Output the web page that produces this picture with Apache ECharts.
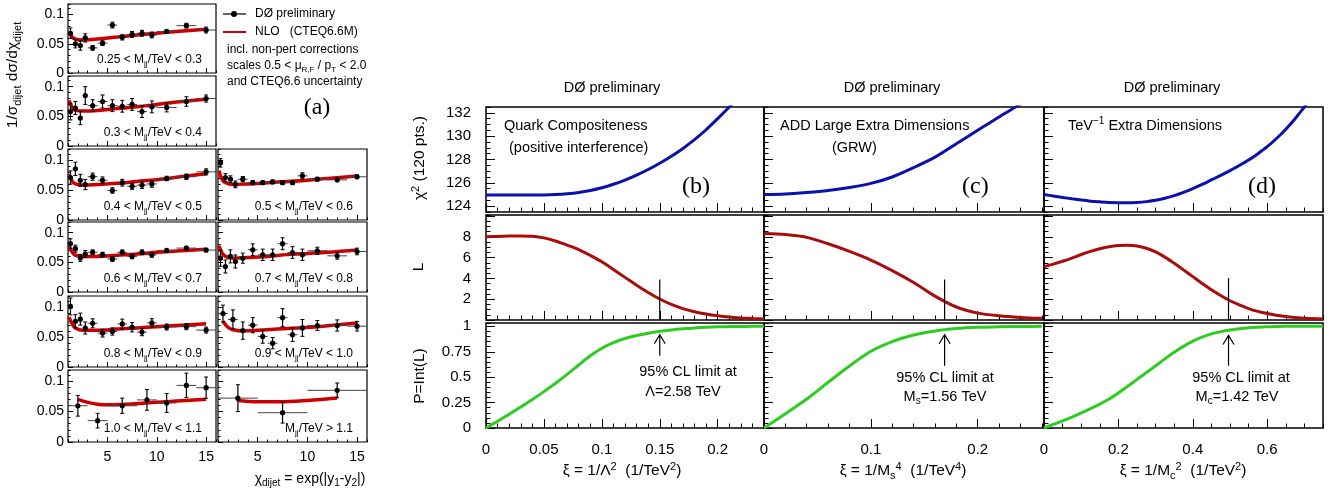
<!DOCTYPE html>
<html>
<head>
<meta charset="utf-8">
<script src="https://cdn.jsdelivr.net/npm/echarts@6.0.0/dist/echarts.min.js"></script>
<style>
  html, body { margin: 0; padding: 0; background: #fff; }
  #chart { width: 1340px; height: 493px; }
</style>
</head>
<body>
<div id="chart"></div>
<script>
// ---- dijet chi distributions, panel (a) ----
const chiStd = [1.25, 1.75, 2.25, 2.75, 3.5, 4.5, 5.5, 6.5, 7.5, 8.5, 9.5, 11, 13, 15];
const chiStdHalf = [0.25, 0.25, 0.25, 0.25, 0.5, 0.5, 0.5, 0.5, 0.5, 0.5, 0.5, 1, 1, 1];
const chi09 = [1.5, 2.5, 3.5, 4.5, 5.5, 6.5, 7.5, 8.5, 9.5, 11, 13, 15];
const chi09Half = [0.5, 0.5, 0.5, 0.5, 0.5, 0.5, 0.5, 0.5, 0.5, 1, 1, 1];
const chi10 = [2, 4, 6.5, 9, 11, 13, 15];
const chi10Half = [1, 1, 1.5, 1, 1, 1, 1];
const chi11 = [3, 7.5, 13];
const chi11Half = [2, 2.5, 3];

const d025 = [0.068, 0.050, 0.047, 0.060, 0.043, 0.051, 0.082, 0.061, 0.066, 0.068, 0.065, 0.071, 0.081, 0.0735];
const e025 = [0.009, 0.007, 0.008, 0.007, 0.004, 0.004, 0.005, 0.0045, 0.005, 0.005, 0.005, 0.003, 0.004, 0.005];
const d03 = [0.058, 0.064, 0.047, 0.085, 0.068, 0.075, 0.068, 0.067, 0.070, 0.058, 0.066, 0.065, 0.075, 0.080];
const e03 = [0.014, 0.011, 0.011, 0.015, 0.01, 0.011, 0.01, 0.01, 0.01, 0.01, 0.01, 0.0075, 0.008, 0.006];
const d04 = [0.0706, 0.085, 0.066, 0.059, 0.072, 0.066, 0.049, 0.062, 0.056, 0.058, 0.060, 0.069, 0.072, 0.080];
const e04 = [0.011, 0.011, 0.01, 0.0085, 0.006, 0.0056, 0.0045, 0.0056, 0.005, 0.0056, 0.0056, 0.0037, 0.0045, 0.005];
const d05 = [0.0949, 0.0706, 0.0678, 0.0593, 0.0678, 0.0621, 0.062, 0.0633, 0.062, 0.062, 0.0734, 0.0678, 0.0667, 0.0718];
const e05 = [0.007, 0.0065, 0.0056, 0.0056, 0.0045, 0.0034, 0.003, 0.003, 0.003, 0.003, 0.005, 0.003, 0.003, 0.003];
const d06 = [0.0816, 0.073, 0.0575, 0.064, 0.067, 0.063, 0.0557, 0.067, 0.060, 0.067, 0.0626, 0.070, 0.074, 0.0707];
const e06 = [0.008, 0.006, 0.006, 0.006, 0.004, 0.004, 0.004, 0.004, 0.004, 0.004, 0.004, 0.002, 0.003, 0.003];
const d07 = [0.057, 0.043, 0.060, 0.0514, 0.057, 0.0712, 0.0627, 0.0627, 0.0814, 0.0666, 0.0627, 0.0695, 0.061, 0.0683];
const e07 = [0.0136, 0.011, 0.011, 0.011, 0.0085, 0.01, 0.0096, 0.0096, 0.01, 0.01, 0.0096, 0.006, 0.0056, 0.0056];
const d08 = [0.1006, 0.076, 0.0795, 0.0648, 0.0727, 0.0563, 0.059, 0.0716, 0.066, 0.058, 0.0733, 0.0665, 0.067, 0.0614];
const e08 = [0.014, 0.011, 0.01, 0.01, 0.0074, 0.0065, 0.006, 0.008, 0.0077, 0.006, 0.007, 0.005, 0.005, 0.005];
const d09 = [0.0888, 0.079, 0.0605, 0.0695, 0.0508, 0.0396, 0.082, 0.0537, 0.065, 0.069, 0.069, 0.0678];
const e09 = [0.014, 0.016, 0.0144, 0.0127, 0.0113, 0.0093, 0.015, 0.0113, 0.014, 0.0082, 0.0093, 0.008];
const d10 = [0.0594, 0.035, 0.0594, 0.069, 0.064, 0.0928, 0.089];
const e10 = [0.017, 0.012, 0.0125, 0.017, 0.0155, 0.02, 0.0175];
const d11 = [0.0719, 0.048, 0.0847];
const e11 = [0.022, 0.017, 0.012];

// NLO (CTEQ6.6M) predictions
const nloX = [1.1, 1.4, 1.75, 2.5, 4, 6, 8, 10, 12, 15];
const t025 = [0.070, 0.062, 0.058, 0.0565, 0.058, 0.0615, 0.065, 0.068, 0.071, 0.075];
const t03 = [0.077, 0.066, 0.060, 0.059, 0.060, 0.063, 0.066, 0.070, 0.074, 0.079];
const t04 = [0.076, 0.065, 0.060, 0.058, 0.059, 0.061, 0.064, 0.067, 0.071, 0.077];
const t05 = [0.082, 0.068, 0.062, 0.059, 0.060, 0.062, 0.064, 0.066, 0.069, 0.073];
const t06 = [0.078, 0.068, 0.062, 0.060, 0.060, 0.062, 0.064, 0.067, 0.069, 0.072];
const t07 = [0.078, 0.066, 0.060, 0.057, 0.058, 0.060, 0.063, 0.065, 0.067, 0.071];
const t08 = [0.083, 0.072, 0.065, 0.061, 0.061, 0.063, 0.065, 0.067, 0.069, 0.072];
const nlo09X = [1.5, 2, 2.5, 3.5, 5, 7, 9, 11, 13, 15];
const t09 = [0.076, 0.066, 0.062, 0.060, 0.061, 0.063, 0.065, 0.067, 0.070, 0.073];
const nlo10X = [2, 3, 4, 5, 7, 10, 12, 15];
const t10 = [0.070, 0.065, 0.062, 0.061, 0.062, 0.065, 0.067, 0.070];
const nlo11X = [3, 5, 7, 10, 13];
const t11 = [0.068, 0.066, 0.066, 0.068, 0.072];

const massLabels = [
  '0.25 < M{s|jj}/TeV < 0.3', '0.3 < M{s|jj}/TeV < 0.4', '0.4 < M{s|jj}/TeV < 0.5',
  '0.5 < M{s|jj}/TeV < 0.6', '0.6 < M{s|jj}/TeV < 0.7', '0.7 < M{s|jj}/TeV < 0.8',
  '0.8 < M{s|jj}/TeV < 0.9', '0.9 < M{s|jj}/TeV < 1.0', '1.0 < M{s|jj}/TeV < 1.1',
  'M{s|jj}/TeV > 1.1'
];

// ---- limit panels (b), (c), (d) ----
const xiB = [0, 0.01, 0.02, 0.03, 0.04, 0.05, 0.06, 0.07, 0.08, 0.09, 0.1, 0.11, 0.12,
  0.13, 0.14, 0.15, 0.16, 0.17, 0.18, 0.19, 0.2, 0.21, 0.22, 0.23, 0.24];
const chi2B = [124.95, 124.95, 124.95, 124.95, 124.95, 124.96, 125.0, 125.07, 125.18, 125.35, 125.58, 125.88, 126.24,
  126.66, 127.14, 127.68, 128.28, 128.95, 129.7, 130.55, 131.5, 132.5, 133.55, 134.6, 135.7];
const likeB = [8.0, 8.04, 8.07, 8.08, 8.05, 7.9, 7.6, 7.2, 6.78, 6.22, 5.6, 4.85, 4.1,
  3.35, 2.65, 2.02, 1.5, 1.1, 0.8, 0.57, 0.4, 0.28, 0.2, 0.14, 0.1];
const probB = [0, 0.067, 0.135, 0.207, 0.28, 0.358, 0.44, 0.528, 0.62, 0.71, 0.785, 0.84, 0.88,
  0.91, 0.933, 0.951, 0.965, 0.976, 0.985, 0.991, 0.995, 0.998, 0.999, 1.0, 1.0];

const xiC = [0, 0.02, 0.04, 0.06, 0.08, 0.1, 0.12, 0.14, 0.16, 0.18, 0.2, 0.22, 0.24, 0.26];
const chi2C = [125.0, 125.05, 125.18, 125.35, 125.6, 125.95, 126.5, 127.3, 128.2, 129.35, 130.5, 131.65, 132.75, 133.9];
const likeC = [8.33, 8.22, 7.95, 7.33, 6.6, 5.77, 4.75, 3.6, 2.3, 1.25, 0.66, 0.4, 0.25, 0.16];
const probC = [0, 0.14, 0.285, 0.45, 0.61, 0.755, 0.85, 0.915, 0.955, 0.978, 0.99, 0.996, 0.999, 1.0];

const xiD = [0, 0.025, 0.05, 0.075, 0.1, 0.125, 0.15, 0.175, 0.2, 0.225, 0.25, 0.275, 0.3, 0.325, 0.35, 0.375,
  0.4, 0.425, 0.45, 0.475, 0.5, 0.525, 0.55, 0.575, 0.6, 0.625, 0.65, 0.675, 0.7, 0.725, 0.75];
const chi2D = [125.0, 124.87, 124.75, 124.63, 124.52, 124.43, 124.37, 124.32, 124.3, 124.29, 124.32, 124.39, 124.5, 124.68, 124.9, 125.18,
  125.5, 125.86, 126.25, 126.64, 127.05, 127.48, 127.95, 128.5, 129.1, 129.8, 130.6, 131.5, 132.5, 133.5, 134.5];
const likeD = [5.13, 5.38, 5.65, 5.95, 6.3, 6.6, 6.85, 7.05, 7.17, 7.2, 7.12, 6.9, 6.55, 6.05, 5.45, 4.82,
  4.17, 3.52, 2.9, 2.35, 1.85, 1.45, 1.1, 0.83, 0.62, 0.46, 0.33, 0.24, 0.17, 0.13, 0.1];
const probD = [0, 0.035, 0.07, 0.108, 0.148, 0.19, 0.235, 0.285, 0.345, 0.41, 0.478, 0.545, 0.612, 0.68, 0.745, 0.803,
  0.855, 0.895, 0.926, 0.948, 0.965, 0.977, 0.986, 0.991, 0.995, 0.998, 1.0, 1.0, 1.0, 1.0, 1.0];

const limitXi = [0.15, 0.169, 0.496];
const limitLineTop = [3.9, 3.9, 4.05];
const arrowBase = [0.71, 0.613, 0.613];
const arrowTip = [0.918, 0.918, 0.91];

const FONT = '"Liberation Sans", Arial, Helvetica, sans-serif';
const SERIF = '"Liberation Serif", "DejaVu Serif", "Times New Roman", serif';

const grid = [], xAxis = [], yAxis = [], series = [], graphic = [];

function axisPair(gi, s, dim) {
  const pos = dim === 'x' ? 'bottom' : 'left';
  const main = {
    type: 'value', gridIndex: gi, position: pos, min: s.min, max: s.max,
    axisLine: { show: false, onZero: false },
    splitLine: { show: false },
    axisTick: { show: true, inside: true, length: s.len, customValues: s.ticks, lineStyle: { color: '#000', width: 1 } },
    axisLabel: s.labels
      ? { show: true, customValues: s.labels, formatter: v => String(+(+v).toFixed(4)), color: '#000', fontFamily: FONT, fontSize: s.fs, margin: s.margin }
      : { show: false }
  };
  const minor = {
    type: 'value', gridIndex: gi, position: pos, min: s.min, max: s.max, interval: s.step,
    axisLine: { show: false, onZero: false }, splitLine: { show: false }, axisLabel: { show: false },
    axisTick: { show: true, inside: true, length: s.mlen, lineStyle: { color: '#000', width: 1 } }
  };
  return [main, minor];
}

function panel(rect, xs, ys, border) {
  const gi = grid.length;
  grid.push({
    left: rect[0], top: rect[1], width: rect[2], height: rect[3],
    show: true, borderColor: '#000', borderWidth: border, backgroundColor: 'rgba(0,0,0,0)',
    containLabel: false, outerBoundsMode: 'none'
  });
  const xi = xAxis.length, yi = yAxis.length;
  xAxis.push(...axisPair(gi, xs, 'x'));
  yAxis.push(...axisPair(gi, ys, 'y'));
  return { xAxisIndex: xi, yAxisIndex: yi };
}

function richFor(size, family) {
  const small = Math.round(size * 0.7);
  return {
    s: { fontSize: small, fontFamily: family, lineHeight: small, verticalAlign: 'bottom', fill: '#000' },
    p: { fontSize: small, fontFamily: family, lineHeight: small, verticalAlign: 'top', fill: '#000' }
  };
}

function text(x, y, str, size, opts) {
  opts = opts || {};
  const family = opts.family || FONT;
  graphic.push({
    type: 'text', x, y, rotation: opts.rot || 0, z: 100, silent: true,
    style: {
      text: str, fill: '#000', font: size + 'px ' + family,
      textAlign: opts.align || 'left', textVerticalAlign: 'middle',
      lineHeight: Math.round(size * 1.3), rich: richFor(size, family)
    }
  });
}

// ---- panel (a) ----
const colLeft = [68, 218], colWidth = [148, 149];
const rowTop = [4, 76, 149, 222, 296, 370], rowHeight = [69, 70, 71, 70, 71, 72];

const dijetPanels = [
  { col: 0, row: 0, x: chiStd, hw: chiStdHalf, y: d025, e: e025, nx: nloX, ny: t025 },
  { col: 0, row: 1, x: chiStd, hw: chiStdHalf, y: d03, e: e03, nx: nloX, ny: t03 },
  { col: 0, row: 2, x: chiStd, hw: chiStdHalf, y: d04, e: e04, nx: nloX, ny: t04 },
  { col: 1, row: 2, x: chiStd, hw: chiStdHalf, y: d05, e: e05, nx: nloX, ny: t05 },
  { col: 0, row: 3, x: chiStd, hw: chiStdHalf, y: d06, e: e06, nx: nloX, ny: t06 },
  { col: 1, row: 3, x: chiStd, hw: chiStdHalf, y: d07, e: e07, nx: nloX, ny: t07 },
  { col: 0, row: 4, x: chiStd, hw: chiStdHalf, y: d08, e: e08, nx: nloX, ny: t08 },
  { col: 1, row: 4, x: chi09, hw: chi09Half, y: d09, e: e09, nx: nlo09X, ny: t09 },
  { col: 0, row: 5, x: chi10, hw: chi10Half, y: d10, e: e10, nx: nlo10X, ny: t10 },
  { col: 1, row: 5, x: chi11, hw: chi11Half, y: d11, e: e11, nx: nlo11X, ny: t11 }
];

dijetPanels.forEach((p, k) => {
  const rect = [colLeft[p.col], rowTop[p.row], colWidth[p.col], rowHeight[p.row]];
  const ax = panel(rect,
    { min: 1, max: 16, ticks: [5, 10, 15], labels: p.row === 5 ? [5, 10, 15] : null, len: 5, step: 1, mlen: 2.5, fs: 14, margin: 8 },
    { min: 0, max: 0.118, ticks: [0, 0.05, 0.1], labels: p.col === 0 ? [0, 0.05, 0.1] : null, len: 5, step: 0.01, mlen: 2.5, fs: 14, margin: 4 },
    1.2);
  series.push({
    type: 'line', xAxisIndex: ax.xAxisIndex, yAxisIndex: ax.yAxisIndex, z: 3, silent: true,
    data: p.nx.map((x, i) => [x, p.ny[i]]), symbol: 'none', smooth: 0.4,
    lineStyle: { color: '#cc0000', width: 3.5 }
  });
  series.push({
    type: 'custom', xAxisIndex: ax.xAxisIndex, yAxisIndex: ax.yAxisIndex, z: 5, silent: true,
    encode: { x: 0, y: 1 },
    data: p.x.map((x, i) => [x, p.y[i], p.hw[i], p.e[i]]),
    renderItem(params, api) {
      const x = api.value(0), y = api.value(1), h = api.value(2), e = api.value(3);
      const c = api.coord([x, y]);
      const l = api.coord([x - h, y]), r = api.coord([x + h, y]);
      const t = api.coord([x, y + e]), b = api.coord([x, y - e]);
      return {
        type: 'group', children: [
          { type: 'line', shape: { x1: l[0], y1: c[1], x2: r[0], y2: c[1] }, style: { stroke: '#444', lineWidth: 1 } },
          { type: 'line', shape: { x1: c[0], y1: t[1], x2: c[0], y2: b[1] }, style: { stroke: '#000', lineWidth: 1.2 } },
          { type: 'line', shape: { x1: c[0] - 2, y1: t[1], x2: c[0] + 2, y2: t[1] }, style: { stroke: '#000', lineWidth: 1 } },
          { type: 'line', shape: { x1: c[0] - 2, y1: b[1], x2: c[0] + 2, y2: b[1] }, style: { stroke: '#000', lineWidth: 1 } },
          { type: 'circle', shape: { cx: c[0], cy: c[1], r: 2.6 }, style: { fill: '#000' } }
        ]
      };
    }
  });
  text(rect[0] + rect[2] - 14, rect[1] + rect[3] - 13, massLabels[k], 12, { align: 'right' });
});

// legend and notes of panel (a)
graphic.push(
  { type: 'line', shape: { x1: 223, y1: 14, x2: 246, y2: 14 }, style: { stroke: '#000', lineWidth: 1.2 }, z: 100 },
  { type: 'circle', shape: { cx: 234, cy: 14, r: 3 }, style: { fill: '#000' }, z: 100 },
  { type: 'line', shape: { x1: 223, y1: 32, x2: 246, y2: 32 }, style: { stroke: '#cc0000', lineWidth: 2 }, z: 100 }
);
text(255, 14, 'DØ preliminary', 12);
text(255, 32, 'NLO   (CTEQ6.6M)', 12);
text(227, 50, 'incl. non-pert corrections', 12);
text(227, 66, 'scales 0.5 < μ{s|R,F} / p{s|T} < 2.0', 12);
text(227, 82, 'and CTEQ6.6 uncertainty', 12);
text(317, 108, '(a)', 24, { family: SERIF, align: 'center' });
text(13, 75, '1/σ{s|dijet} dσ/dχ{s|dijet}', 15.5, { rot: Math.PI / 2, align: 'center' });
text(310, 479, 'χ{s|dijet} = exp(|y{s|1}-y{s|2}|)', 14, { align: 'center' });

// ---- panels (b), (c), (d) ----
const limitPanels = [
  { left: 486, width: 278, xmax: 0.24, ticks: [0, 0.05, 0.1, 0.15, 0.2], step: 0.01, xi: xiB, chi: chi2B, like: likeB, prob: probB },
  { left: 764, width: 280, xmax: 0.262, ticks: [0, 0.1, 0.2], step: 0.02, xi: xiC, chi: chi2C, like: likeC, prob: probC },
  { left: 1044, width: 279, xmax: 0.75, ticks: [0, 0.2, 0.4, 0.6], step: 0.05, xi: xiD, chi: chi2D, like: likeD, prob: probD }
];
const rows = [
  { top: 107, height: 105, min: 123.5, max: 132.5, ticks: [124, 126, 128, 130, 132], step: 0.5, key: 'chi', color: '#0c10aa' },
  { top: 215, height: 105, min: 0, max: 10.1, ticks: [0, 2, 4, 6, 8, 10], labels: [2, 4, 6, 8], step: 0.5, key: 'like', color: '#a80c0c' },
  { top: 323, height: 105, min: 0, max: 1.033, ticks: [0, 0.25, 0.5, 0.75, 1], step: 0.05, key: 'prob', color: '#2ecc22' }
];

limitPanels.forEach((c, k) => {
  rows.forEach((r, j) => {
    const ax = panel([c.left, r.top, c.width, r.height],
      { min: 0, max: c.xmax, ticks: c.ticks, labels: j === 2 ? c.ticks : null, len: 9, step: c.step, mlen: 4.5, fs: 15, margin: 14 },
      { min: r.min, max: r.max, ticks: r.ticks, labels: k === 0 ? (r.labels || r.ticks) : null, len: 9, step: r.step, mlen: 4.5, fs: 15, margin: 15 },
      1.5);
    series.push({
      type: 'line', xAxisIndex: ax.xAxisIndex, yAxisIndex: ax.yAxisIndex, z: 3, silent: true, clip: true,
      data: c.xi.map((x, i) => [x, c[r.key][i]]), symbol: 'none', smooth: 0.3,
      lineStyle: { color: r.color, width: 3 }
    });
    if (j === 1) {
      series.push({
        type: 'line', xAxisIndex: ax.xAxisIndex, yAxisIndex: ax.yAxisIndex, z: 4, silent: true,
        data: [[limitXi[k], 0], [limitXi[k], limitLineTop[k]]], symbol: 'none',
        lineStyle: { color: '#000', width: 1.2 }
      });
    }
    if (j === 2) {
      series.push({
        type: 'custom', xAxisIndex: ax.xAxisIndex, yAxisIndex: ax.yAxisIndex, z: 4, silent: true,
        encode: { x: 0, y: 1 },
        data: [[limitXi[k], arrowBase[k], arrowTip[k]]],
        renderItem(params, api) {
          const b = api.coord([api.value(0), api.value(1)]);
          const t = api.coord([api.value(0), api.value(2)]);
          return {
            type: 'group', children: [
              { type: 'line', shape: { x1: b[0], y1: b[1], x2: t[0], y2: t[1] }, style: { stroke: '#000', lineWidth: 1.2 } },
              { type: 'polyline', shape: { points: [[t[0] - 5.5, t[1] + 9], [t[0], t[1]], [t[0] + 5.5, t[1] + 9]] }, style: { stroke: '#000', lineWidth: 1.2, fill: null } }
            ]
          };
        }
      });
    }
  });
});

// titles and annotations
text(612, 88, 'DØ preliminary', 14.5, { align: 'center' });
text(892, 88, 'DØ preliminary', 14.5, { align: 'center' });
text(1172, 88, 'DØ preliminary', 14.5, { align: 'center' });
text(504, 126, 'Quark Compositeness', 14.5);
text(509, 148, '(positive interference)', 14.5);
text(780, 126, 'ADD Large Extra Dimensions', 14.5);
text(832, 148, '(GRW)', 14.5);
text(1068, 126, 'TeV{p|−1} Extra Dimensions', 14.5);
text(682, 187, '(b)', 24, { family: SERIF });
text(962, 187, '(c)', 24, { family: SERIF });
text(1248, 187, '(d)', 24, { family: SERIF });
text(420, 158, 'χ{p|2} (120 pts.)', 15.5, { rot: Math.PI / 2, align: 'center' });
text(419, 267, 'L', 15.5, { rot: Math.PI / 2, align: 'center' });
text(420, 376, 'P=Int(L)', 15.5, { rot: Math.PI / 2, align: 'center' });
text(622, 471, 'ξ = 1/Λ{p|2}  (1/TeV{p|2})', 15.5, { align: 'center' });
text(903, 471, 'ξ = 1/M{s|s}{p|4}  (1/TeV{p|4})', 15.5, { align: 'center' });
text(1183, 471, 'ξ = 1/M{s|c}{p|2}  (1/TeV{p|2})', 15.5, { align: 'center' });
text(688, 372, '95% CL limit at', 14.5, { align: 'center' });
text(683, 392, 'Λ=2.58 TeV', 14.5, { align: 'center' });
text(945, 378, '95% CL limit at', 14.5, { align: 'center' });
text(945, 397, 'M{s|s}=1.56 TeV', 14.5, { align: 'center' });
text(1241, 378, '95% CL limit at', 14.5, { align: 'center' });
text(1237, 397, 'M{s|c}=1.42 TeV', 14.5, { align: 'center' });

const chart = echarts.init(document.getElementById('chart'));
chart.setOption({
  animation: false,
  backgroundColor: '#fff',
  grid, xAxis, yAxis, series, graphic
});
</script>
</body>
</html>
